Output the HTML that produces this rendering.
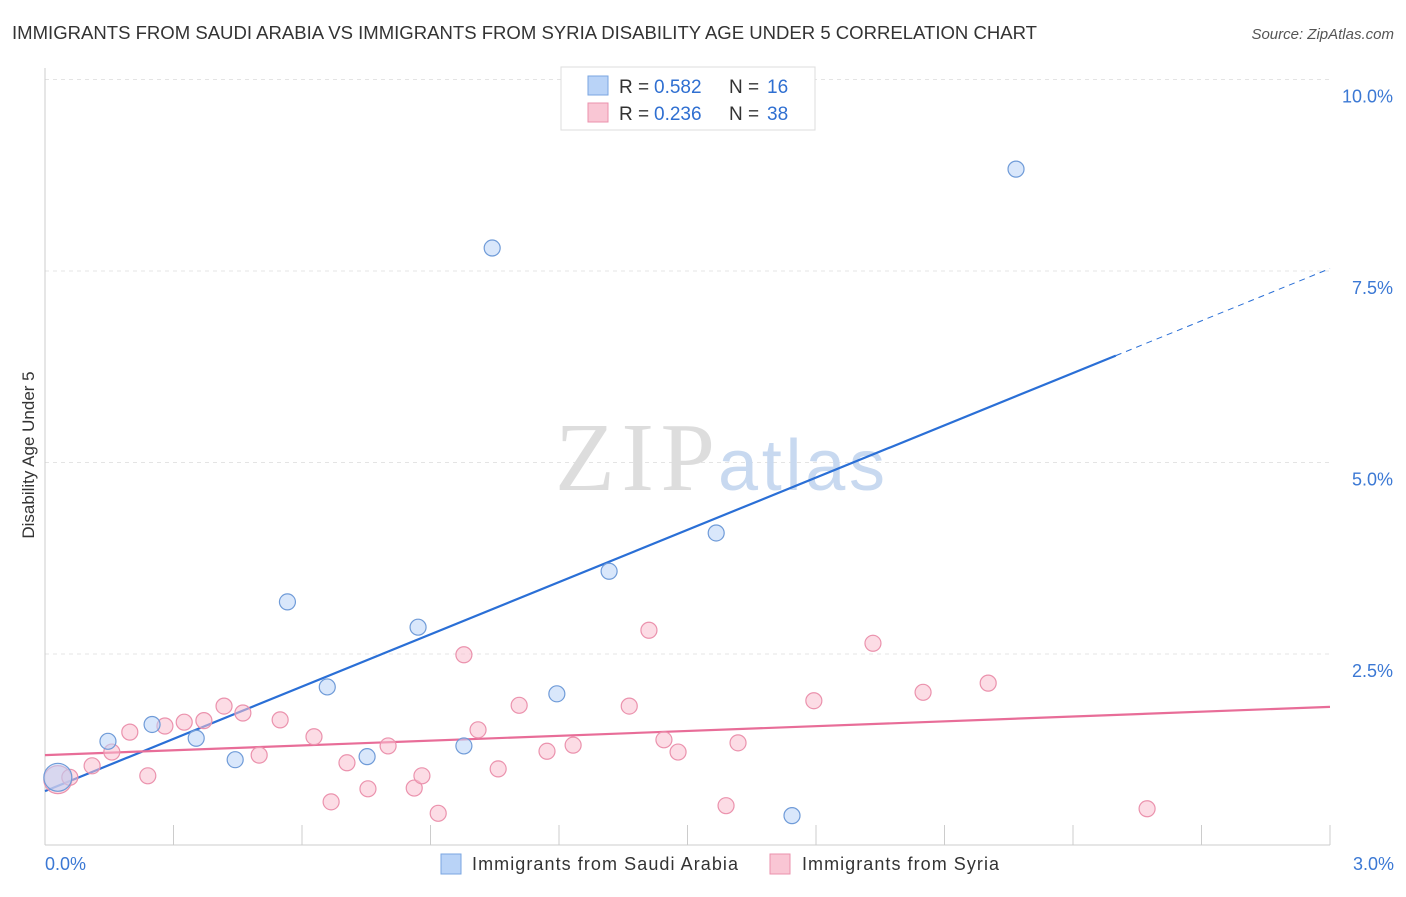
<!DOCTYPE html>
<html><head><meta charset="utf-8"><style>
body{margin:0;background:#fff;font-family:"Liberation Sans",sans-serif;}
</style></head><body>
<svg width="1406" height="892" viewBox="0 0 1406 892" xmlns="http://www.w3.org/2000/svg">
<text x="12" y="39" font-size="18" fill="#333" textLength="1025" lengthAdjust="spacingAndGlyphs">IMMIGRANTS FROM SAUDI ARABIA VS IMMIGRANTS FROM SYRIA DISABILITY AGE UNDER 5 CORRELATION CHART</text>
<text x="1394" y="39" font-size="15" fill="#555" font-style="italic" text-anchor="end">Source: ZipAtlas.com</text>
<g id="grid"></g>
<g id="ticks"></g>
<text x="555" y="490" font-size="98" fill="#ddd" font-family="Liberation Serif" textLength="160">ZIP</text>
<text x="718" y="490" font-size="72" fill="#c8d9f0" textLength="167">atlas</text>
<text x="34" y="455" font-size="17" fill="#333" text-anchor="middle" transform="rotate(-90 34 455)">Disability Age Under 5</text>
<g id="lines"></g>
<g id="pts"></g>
<rect x="561" y="67" width="254" height="63" fill="#fff" stroke="#ddd"/>
<rect x="588" y="76" width="20" height="19" fill="#b9d3f7" stroke="#7aa6e0"/>
<rect x="588" y="103" width="20" height="19" fill="#f9c6d4" stroke="#eb92ad"/>
<text y="93" font-size="19" fill="#333"><tspan x="619">R =</tspan><tspan x="654" fill="#2f6fd1">0.582</tspan><tspan x="729">N =</tspan><tspan x="767" fill="#2f6fd1">16</tspan></text>
<text y="120" font-size="19" fill="#333"><tspan x="619">R =</tspan><tspan x="654" fill="#2f6fd1">0.236</tspan><tspan x="729">N =</tspan><tspan x="767" fill="#2f6fd1">38</tspan></text>
<text x="45" y="870" font-size="18" fill="#3b78d4">0.0%</text>
<text x="1394" y="870" font-size="18" fill="#3b78d4" text-anchor="end">3.0%</text>
<rect x="441" y="854" width="20" height="20" fill="#b9d3f7" stroke="#7aa6e0"/>
<text x="472" y="870" font-size="18" fill="#333" textLength="266">Immigrants from Saudi Arabia</text>
<rect x="770" y="854" width="20" height="20" fill="#f9c6d4" stroke="#eb92ad"/>
<text x="802" y="870" font-size="18" fill="#333" textLength="197">Immigrants from Syria</text>
</svg>
<script>
const yTicks=[2.5,5.0,7.5,10.0];
const yTickLabels=["2.5%","5.0%","7.5%","10.0%"];
const xTicks=[0.3,0.6,0.9,1.2,1.5,1.8,2.1,2.4,2.7,3.0];
const saudiX=[0.03,0.147,0.25,0.353,0.444,0.566,0.659,0.752,0.871,0.978,1.044,1.195,1.317,1.567,1.744,2.267];
const saudiY=[0.89,1.36,1.58,1.40,1.12,3.18,2.07,1.16,2.85,1.30,7.80,1.98,3.58,4.08,0.39,8.83];
const syriaX=[0.03,0.058,0.11,0.156,0.198,0.24,0.28,0.325,0.371,0.418,0.462,0.5,0.549,0.628,0.668,0.705,0.754,0.801,0.862,0.88,0.918,0.978,1.011,1.058,1.107,1.172,1.233,1.364,1.41,1.445,1.478,1.59,1.618,1.795,1.933,2.05,2.202,2.573];
const syriaY=[0.86,0.89,1.04,1.22,1.48,0.91,1.56,1.61,1.63,1.82,1.73,1.18,1.64,1.42,0.57,1.08,0.74,1.30,0.75,0.91,0.42,2.49,1.51,1.00,1.83,1.23,1.31,1.82,2.81,1.38,1.22,0.52,1.34,1.89,2.64,2.00,2.12,0.48];
const saudiFit=[0.71,2.274]; // intercept, slope
const syriaFit=[1.18,0.21];
const NS="http://www.w3.org/2000/svg";
const xs=v=>45+v*428.33, ys=v=>845.5-v*76.6;
function mk(t,a,p){const e=document.createElementNS(NS,t);for(const k in a)e.setAttribute(k,a[k]);document.getElementById(p).appendChild(e);return e;}
yTicks.forEach((t,i)=>{
 const l=mk('line',{x1:45,x2:1330,y1:ys(t),y2:ys(t),stroke:'#e4e4e4','stroke-dasharray':'4 4'},'grid');
 
 
 const tx=mk('text',{x:1393,y:ys(t)+23,'font-size':18,fill:'#3b78d4','text-anchor':'end'},'grid');
 tx.textContent=yTickLabels[i];
 
 
});
const ax=mk('line',{x1:45,x2:1330,y1:845,y2:845,stroke:'#ccc'},'ticks');


const ay=mk('line',{x1:45,x2:45,y1:68,y2:845,stroke:'#ccc'},'ticks');


xTicks.forEach(t=>{
 const l=mk('line',{x1:xs(t),x2:xs(t),y1:825,y2:845,stroke:'#ccc'},'ticks');
 
 
});
function pts(X,Y,fill,stroke,name){
 X.forEach((x,i)=>{
  const r=i==0?14:8;
  const c=mk('circle',{cx:xs(x),cy:ys(Y[i]),r:r,fill:fill,'fill-opacity':0.55,stroke:stroke,'stroke-width':1.2},'pts');
  
  
 });
}
pts(syriaX,syriaY,'#f9c0d0','#eb92ad','syria-point');
pts(saudiX,saudiY,'#b9d3f7','#6f9bd8','saudi-point');
const fy=(f,x)=>f[0]+f[1]*x;
let l1=mk('line',{x1:xs(0),y1:ys(fy(saudiFit,0)),x2:xs(2.5),y2:ys(fy(saudiFit,2.5)),stroke:'#2a6fd6','stroke-width':2.2},'lines');


let l2=mk('line',{x1:xs(2.5),y1:ys(fy(saudiFit,2.5)),x2:xs(3),y2:ys(fy(saudiFit,3)),stroke:'#2a6fd6','stroke-width':1,'stroke-dasharray':'6 5'},'lines');


let l3=mk('line',{x1:xs(0),y1:ys(fy(syriaFit,0)),x2:xs(3),y2:ys(fy(syriaFit,3)),stroke:'#e86d98','stroke-width':2.2},'lines');


</script>
</body></html>
